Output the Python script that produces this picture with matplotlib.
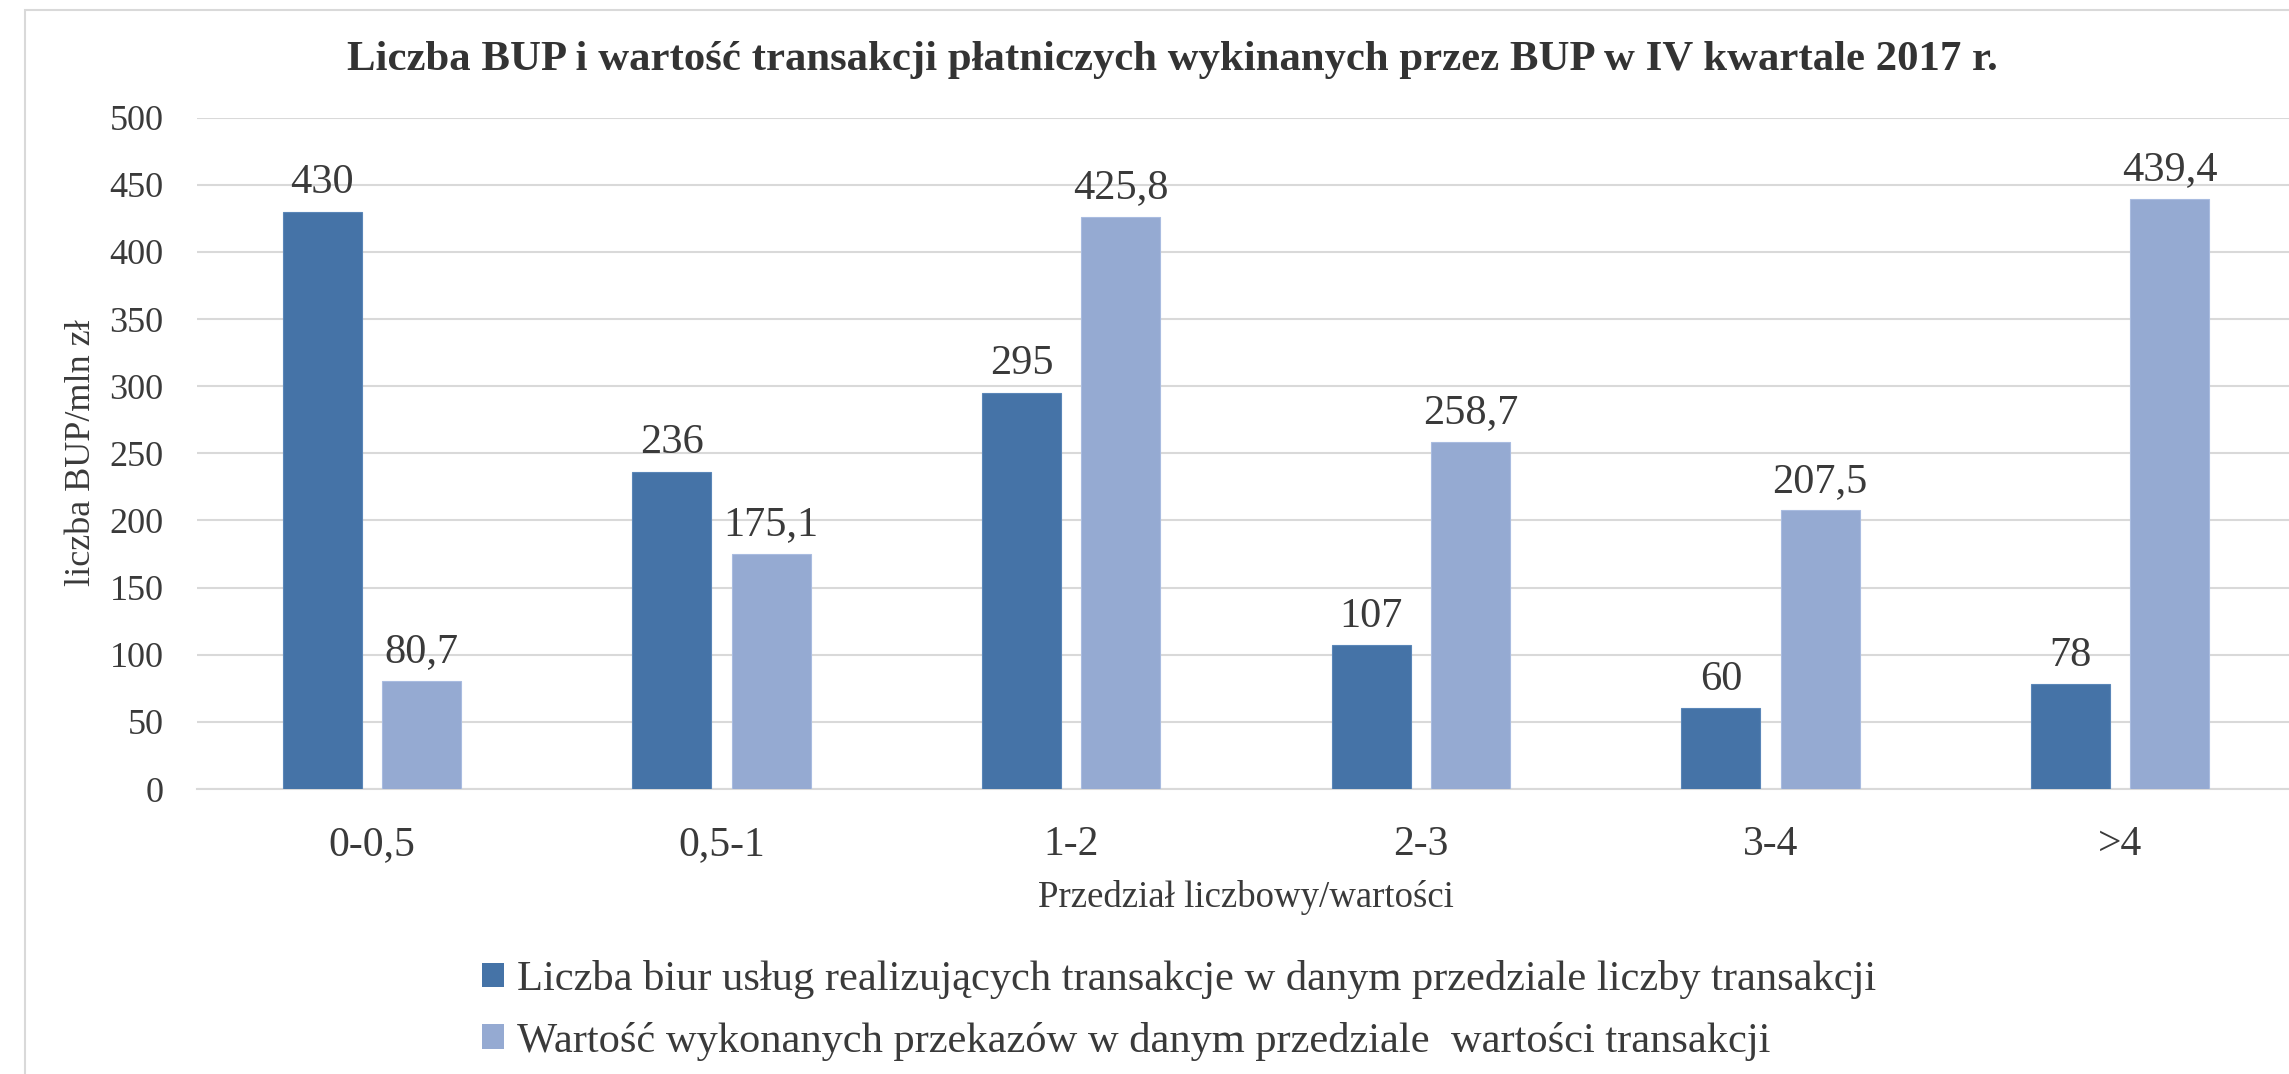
import matplotlib
matplotlib.use("Agg")
import matplotlib.pyplot as plt
from matplotlib.patches import Rectangle, Patch
import numpy as np

categories = ["0-0,5", "0,5-1", "1-2", "2-3", "3-4", ">4"]
liczba_bup = [430, 236, 295, 107, 60, 78]
wartosc = [80.7, 175.1, 425.8, 258.7, 207.5, 439.4]
liczba_labels = ["430", "236", "295", "107", "60", "78"]
wartosc_labels = ["80,7", "175,1", "425,8", "258,7", "207,5", "439,4"]
yticks = [0, 50, 100, 150, 200, 250, 300, 350, 400, 450, 500]

title = "Liczba BUP i wartość transakcji płatniczych wykinanych przez BUP w IV kwartale 2017 r."
ylabel = "liczba BUP/mln zł"
xlabel = "Przedział liczbowy/wartości"
legend_labels = [
    "Liczba biur usług realizujących transakcje w danym przedziale liczby transakcji",
    "Wartość wykonanych przekazów w danym przedziale  wartości transakcji",
]

plt.rcParams['font.family'] = ['Liberation Serif', 'DejaVu Serif']
TXT = "#3a3a3a"
DARK = "#4573A7"
LIGHT = "#95AAD2"
GRID = "#D9D9D9"

W, H = 2289, 1074
fig = plt.figure(figsize=(W / 100, H / 100), dpi=100)

# outer chart border
fig.patches.append(Rectangle((25 / W, -0.05), 1.2, 1 - 10 / H + 0.05,
                             transform=fig.transFigure, fill=False,
                             edgecolor="#D9D9D9", linewidth=1.5))

left, right, top, bottom = 197, 2295, 117.6, 789
ax = fig.add_axes([left / W, 1 - bottom / H, (right - left) / W, (bottom - top) / H])

x = np.arange(len(categories))
bw = 0.226
off = 0.1416
b1 = ax.bar(x - off, liczba_bup, bw, color=DARK, edgecolor="#5A86B8",
            linewidth=0.8, zorder=3)
b2 = ax.bar(x + off, wartosc, bw, color=LIGHT, edgecolor="#A9BCE0",
            linewidth=0.8, zorder=3)

for rect, lab in zip(b1, liczba_labels):
    ax.annotate(lab, (rect.get_x() + rect.get_width() / 2, rect.get_height()),
                xytext=(0, 7), textcoords="offset points", ha="center", va="bottom",
                fontsize=30.5, color=TXT)
for rect, lab in zip(b2, wartosc_labels):
    ax.annotate(lab, (rect.get_x() + rect.get_width() / 2, rect.get_height()),
                xytext=(0, 7), textcoords="offset points", ha="center", va="bottom",
                fontsize=30.5, color=TXT)

ax.set_xlim(-0.5, len(categories) - 0.5)
ax.set_ylim(0, 500)
ax.set_yticks(yticks)
ax.set_yticklabels([str(t) for t in yticks])
ax.set_xticks(x)
ax.set_xticklabels(categories)
ax.tick_params(axis="x", length=0, pad=26, labelsize=30, labelcolor=TXT)
ax.tick_params(axis="y", length=0, pad=24, labelsize=26, labelcolor=TXT)
ax.grid(axis="y", color=GRID, linewidth=1.5, zorder=0)
for s in ["top", "right", "left"]:
    ax.spines[s].set_visible(False)
ax.spines["bottom"].set_color(GRID)
ax.spines["bottom"].set_linewidth(1.5)
ax.set_axisbelow(True)

ax.set_xlabel(xlabel, fontsize=26.5, color=TXT, labelpad=12)
fig.text(82 / W, 1 - 453 / H, ylabel, rotation=90, ha="center", va="center",
         fontsize=26, color=TXT)

fig.text(1172 / W, 1 - 70 / H, title, ha="center", va="baseline",
         fontsize=30.8, fontweight="bold", color="#333333")

handles = [Patch(facecolor=DARK), Patch(facecolor=LIGHT)]
leg = fig.legend(handles, legend_labels, loc="upper left",
                 bbox_to_anchor=(482 / W, 1 - 960 / H), frameon=False,
                 fontsize=30.6, handlelength=0.52, handleheight=0.52,
                 handletextpad=0.3, labelspacing=0.53, borderpad=0, borderaxespad=0)
for t in leg.get_texts():
    t.set_color(TXT)

fig.savefig("out.png", dpi=100)
